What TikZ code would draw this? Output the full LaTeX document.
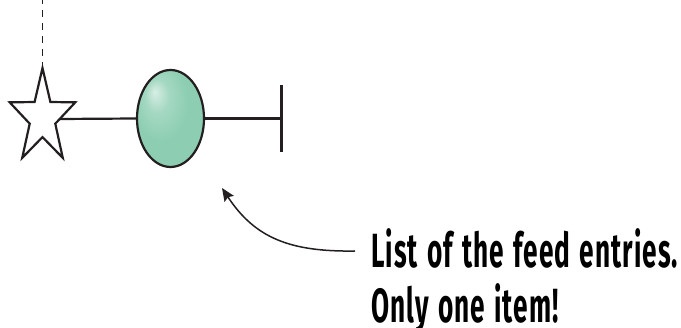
\documentclass[tikz,border=0pt]{standalone}
\usepackage{fontspec}
\usetikzlibrary{shapes.geometric,arrows.meta,calc}
\newfontfamily\notefont{Fira Sans}[LetterSpace=4,WordSpace=1.3]
\definecolor{mint}{RGB}{141,206,178}
\definecolor{inkline}{RGB}{35,31,32}
\pgfdeclareradialshading{mintglow}{\pgfpoint{-12bp}{14bp}}{color(0bp)=(mint!35!white); color(9bp)=(mint!80!white); color(20bp)=(mint); color(50bp)=(mint)}
\newlength\notew
\newsavebox\notebox
\begin{document}
\sbox\notebox{\fontsize{48}{53}\selectfont\notefont\bfseries List of the feed entries.}%
\setlength\notew{\wd\notebox}%
\pgfmathsetmacro\nsx{307/\notew}%
\begin{tikzpicture}[x=1pt,y=-1pt,
  wire/.style={draw=inkline,line width=2.2pt},
  itemnode/.style={ellipse,draw=inkline,line width=2.2pt,minimum width=67pt,minimum height=97pt,inner sep=0pt,shading=mintglow},
  endbar/.style={inner sep=0pt,minimum width=0pt,minimum height=67pt},
  pointer/.style={draw=inkline,line width=1.5pt,-{Stealth[length=13pt,width=11pt,inset=2pt]}}]
\useasboundingbox (0,0) rectangle (681,328);
% star
\draw[wire,line join=miter] plot[samples at={90,126,...,414}] ({42.5+34.5*cos(\x)*(mod(round((\x-90)/36),2)==0 ? 1 : 0.39)},{117.7-49.7*sin(\x)*(mod(round((\x-90)/36),2)==0 ? 1 : 0.39)}) -- cycle;
\coordinate (startop) at (42.5,68);
\coordinate (topend) at (42.5,0);
\coordinate (starR) at (60,119);
\draw[inkline,line width=1.8pt,dash pattern=on 7pt off 6pt,dash phase=1pt] (startop) -- (topend);
% item
\node[itemnode] (item) at (170.5,118.5) {};
\node[endbar] (bar) at (281,118.5) {};
\draw[wire] (starR) -- (item.west);
\draw[wire] (item.east) -- (bar.center);
\draw[inkline,line width=3pt] (bar.north) -- (bar.south);
% note
\node[anchor=base west,inner sep=0pt] (note) at (371,267.7)
  {\scalebox{\nsx}[1]{\fontsize{48}{53}\selectfont\notefont\bfseries\begin{tabular}[t]{@{}l@{}}List of the feed entries.\\Only one item!\end{tabular}}};
\coordinate (tail) at ($(note.base west)+(-16,-16.7)$);
\coordinate (tip) at (222,188);
\draw[pointer] (tail) .. controls (290,252) and (255,238) .. (tip);
\end{tikzpicture}
\end{document}
